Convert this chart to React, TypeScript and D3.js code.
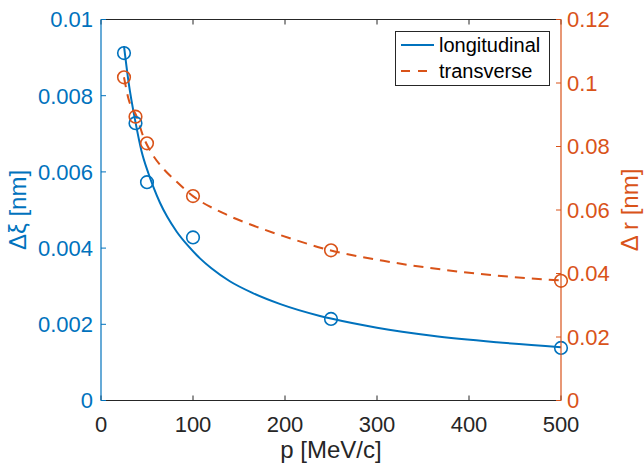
import React from "react";
import * as d3 from "d3";

const xTicks = [0, 100, 200, 300, 400, 500];
const leftTicks = [0, 0.002, 0.004, 0.006, 0.008, 0.01];
const leftTickLabels = ["0", "0.002", "0.004", "0.006", "0.008", "0.01"];
const rightTicks = [0, 0.02, 0.04, 0.06, 0.08, 0.1, 0.12];
const rightTickLabels = ["0", "0.02", "0.04", "0.06", "0.08", "0.1", "0.12"];

// measured points
const momenta = [25, 37.5, 50, 100, 250, 500];
const longitudinal = [0.00912, 0.00728, 0.00573, 0.00428, 0.00214, 0.00138];
const transverse = [0.1018, 0.0894, 0.081, 0.0644, 0.0473, 0.0377];

// fit curves
const longFitX = [25, 30, 37.7, 44, 51.4, 57, 64.1, 72, 82.3, 95, 107.6, 120, 140, 165, 195, 238, 250, 300, 360, 430, 500];
const longFitY = [0.0093, 0.00835, 0.00728, 0.00655, 0.00597, 0.0056, 0.00519, 0.00482, 0.00443, 0.00405, 0.00373, 0.00347, 0.00313, 0.00282, 0.00253, 0.00222, 0.00215, 0.00191, 0.0017, 0.00153, 0.0014];
const transFitX = [25, 29.7, 38.8, 46, 55.1, 66, 82.3, 100.3, 133, 169.2, 205.4, 245.3, 306.9, 397.5, 500];
const transFitY = [0.1018, 0.0952, 0.0894, 0.0831, 0.0779, 0.0736, 0.0689, 0.0643, 0.059, 0.0547, 0.0511, 0.0476, 0.044, 0.0403, 0.0378];

const seriesNames = ["longitudinal", "transverse"];

const BLUE = "#0072BD";
const ORANGE = "#D95319";
const AX = "#262626";
const FONT = "'Liberation Sans', Arial, Helvetica, sans-serif";

export default function App() {
  const W = 644, H = 466;
  const L = 101, R = 561, T = 19.5, B = 400.5;
  const x = d3.scaleLinear().domain([0, 500]).range([L, R]);
  const yL = d3.scaleLinear().domain([0, 0.01]).range([B, T]);
  const yR = d3.scaleLinear().domain([0, 0.12]).range([B, T]);

  const longLine = d3.line<number>().x((_, i) => x(longFitX[i])).y((d) => yL(d)).curve(d3.curveMonotoneX);
  const transLine = d3.line<number>().x((_, i) => x(transFitX[i])).y((d) => yR(d)).curve(d3.curveMonotoneX);

  const fs = 22;
  const lfs = 24;
  const tick = 5;

  return (
    <svg width={W} height={H} style={{ position: "absolute", left: 0, top: 0, background: "#fff" }} fontFamily={FONT}>
      <rect x={0} y={0} width={W} height={H} fill="#fff" />
      {/* curves */}
      <path d={longLine(longFitY) || ""} fill="none" stroke={BLUE} strokeWidth={2} />
      <path d={transLine(transFitY) || ""} fill="none" stroke={ORANGE} strokeWidth={2} strokeDasharray="10,7" />
      {/* markers */}
      {momenta.map((m, i) => (
        <circle key={"b" + i} cx={x(m)} cy={yL(longitudinal[i])} r={6.3} fill="none" stroke={BLUE} strokeWidth={1.6} />
      ))}
      {momenta.map((m, i) => (
        <circle key={"o" + i} cx={x(m)} cy={yR(transverse[i])} r={6.3} fill="none" stroke={ORANGE} strokeWidth={1.6} />
      ))}
      {/* top and bottom axes */}
      <line x1={L} x2={R} y1={T} y2={T} stroke={AX} strokeWidth={1} />
      <line x1={L} x2={R} y1={B} y2={B} stroke={AX} strokeWidth={1} />
      {xTicks.map((t) => (
        <g key={"xt" + t}>
          <line x1={x(t)} x2={x(t)} y1={B} y2={B - tick} stroke={AX} />
          <line x1={x(t)} x2={x(t)} y1={T} y2={T + tick} stroke={AX} />
          <text x={x(t)} y={432} textAnchor="middle" fontSize={fs} fill={AX}>{t}</text>
        </g>
      ))}
      {/* left axis */}
      <line x1={L} x2={L} y1={T} y2={B} stroke={BLUE} strokeWidth={1.2} />
      {leftTicks.map((t, i) => (
        <g key={"yl" + i}>
          <line x1={L} x2={L + tick} y1={yL(t)} y2={yL(t)} stroke={BLUE} />
          <text x={L - 8} y={yL(t)} dy="0.36em" textAnchor="end" fontSize={fs} fill={BLUE}>{leftTickLabels[i]}</text>
        </g>
      ))}
      {/* right axis */}
      <line x1={R} x2={R} y1={T} y2={B} stroke={ORANGE} strokeWidth={1.2} />
      {rightTicks.map((t, i) => (
        <g key={"yr" + i}>
          <line x1={R} x2={R - tick} y1={yR(t)} y2={yR(t)} stroke={ORANGE} />
          <text x={R + 6} y={yR(t)} dy="0.36em" textAnchor="start" fontSize={fs} fill={ORANGE}>{rightTickLabels[i]}</text>
        </g>
      ))}
      {/* axis labels */}
      <text x={(L + R) / 2} y={458} textAnchor="middle" fontSize={lfs} fill={AX}>p [MeV/c]</text>
      <text transform={`translate(26,${(T + B) / 2}) rotate(-90)`} textAnchor="middle" fontSize={lfs} fill={BLUE}>Δξ [nm]</text>
      <text transform={`translate(638,${(T + B) / 2}) rotate(-90)`} textAnchor="middle" fontSize={lfs} fill={ORANGE}>Δ r [nm]</text>
      {/* legend */}
      <rect x={395.5} y={31.5} width={154} height={54} fill="#fff" stroke={AX} strokeWidth={1} />
      <line x1={401} x2={434} y1={45} y2={45} stroke={BLUE} strokeWidth={2} />
      <text x={439} y={45} dy="0.36em" fontSize={20} fill="#000">{seriesNames[0]}</text>
      <line x1={401} x2={434} y1={71} y2={71} stroke={ORANGE} strokeWidth={2} strokeDasharray="9,8" />
      <text x={439} y={71} dy="0.36em" fontSize={20} fill="#000">{seriesNames[1]}</text>
    </svg>
  );
}
